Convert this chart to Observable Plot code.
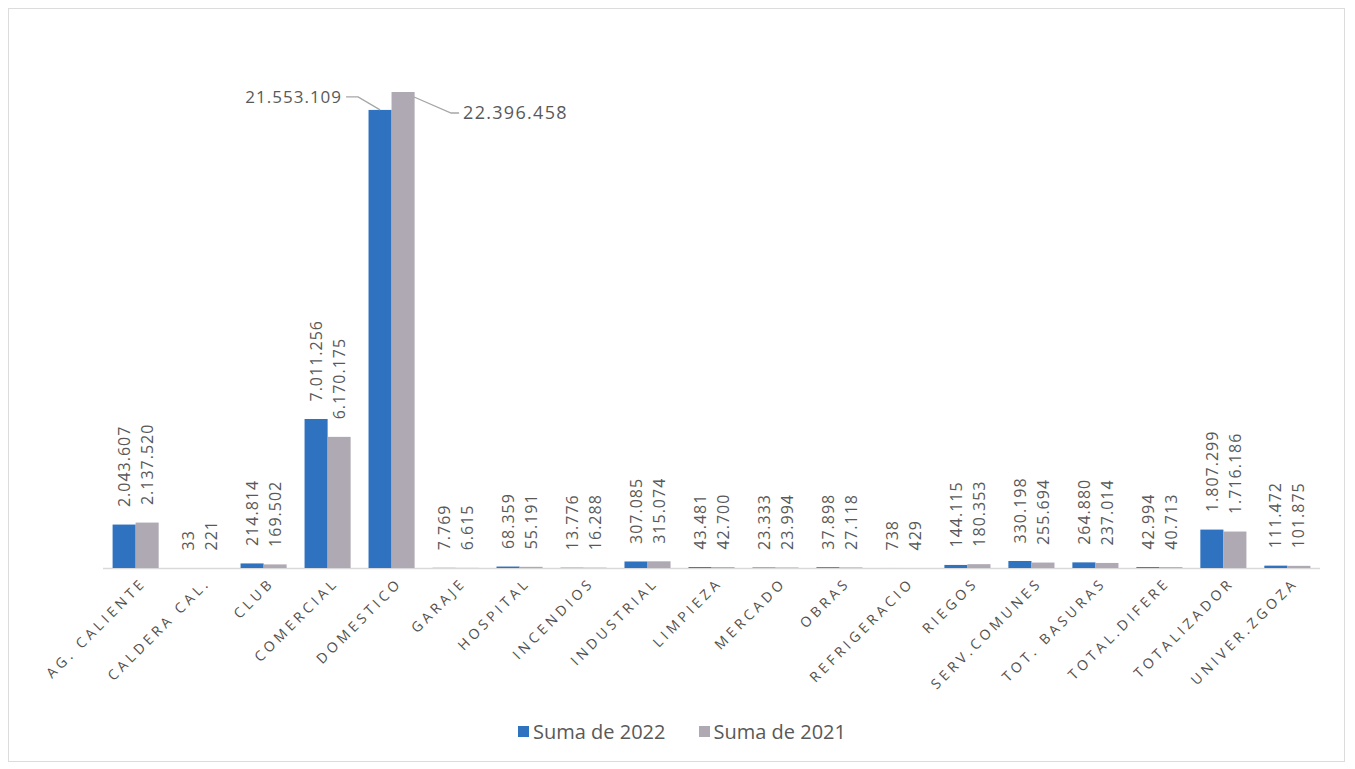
<!DOCTYPE html>
<html>
<head>
<meta charset="utf-8">
<script src="https://cdn.jsdelivr.net/npm/d3@7"></script>
<script src="https://cdn.jsdelivr.net/npm/@observablehq/plot@0.6"></script>
<style>
  body { margin: 0; background: #fff; font-family: "Open Sans", sans-serif; }
  #frame { position: absolute; left: 8px; top: 8px; width: 1337px; height: 754px; border: 1px solid #dcdcdc; box-sizing: border-box; }
  #chart { position: absolute; left: 0; top: 0; }
  #chart g[aria-label="x-axis tick label"] text { letter-spacing: 3.8px; }
  #chart g[aria-label="text"] text { letter-spacing: 1px; }
  #legend { position: absolute; left: 0; top: 718px; width: 1364px; display: flex; justify-content: center; gap: 33px;
            font-size: 20px; color: #595959; font-family: "Open Sans", sans-serif; }
  #legend span.item { display: flex; align-items: center; }
  #legend span.sw { display: inline-block; width: 11px; height: 11px; margin-right: 4px; }
</style>
</head>
<body>
<div id="frame"></div>
<div id="chart"></div>
<div id="legend"></div>
<script>
const categories = ["AG. CALIENTE","CALDERA CAL.","CLUB","COMERCIAL","DOMESTICO","GARAJE","HOSPITAL","INCENDIOS","INDUSTRIAL","LIMPIEZA","MERCADO","OBRAS","REFRIGERACIO","RIEGOS","SERV.COMUNES","TOT. BASURAS","TOTAL.DIFERE","TOTALIZADOR","UNIVER.ZGOZA"];
const values2022 = [2043607,33,214814,7011256,21553109,7769,68359,13776,307085,43481,23333,37898,738,144115,330198,264880,42994,1807299,111472];
const values2021 = [2137520,221,169502,6170175,22396458,6615,55191,16288,315074,42700,23994,27118,429,180353,255694,237014,40713,1716186,101875];
const seriesNames = ["Suma de 2022", "Suma de 2021"];
const seriesColors = ["#2e72c0", "#aea9b3"];
const calloutCategory = "DOMESTICO";

const fmt = d3.formatLocale({decimal: ",", thousands: ".", grouping: [3], currency: ["", ""]}).format(",d");
const rows2022 = categories.map((c, i) => ({cat: c, v: values2022[i]}));
const rows2021 = categories.map((c, i) => ({cat: c, v: values2021[i]}));
const labelColor = "#595959";
const half = 23;

const chart = Plot.plot({
  width: 1355,
  height: 715,
  marginLeft: 103,
  marginRight: 35,
  marginTop: 92,
  marginBottom: 147,
  style: {fontFamily: "Open Sans, sans-serif", background: "transparent"},
  x: {domain: categories, paddingInner: 0.28, paddingOuter: 0.15, round: false, label: null, axis: null},
  y: {domain: [0, d3.max(values2021)], axis: null},
  marks: [
    Plot.ruleY([0], {stroke: "#d9d9d9", strokeWidth: 1.5}),
    Plot.barY(rows2022, {x: "cat", y: "v", fill: seriesColors[0], insetRight: half}),
    Plot.barY(rows2021, {x: "cat", y: "v", fill: seriesColors[1], insetLeft: half}),
    Plot.text(rows2022.filter(d => d.cat !== calloutCategory), {
      x: "cat", y: "v", text: d => fmt(d.v), rotate: -90, textAnchor: "start",
      dx: -11.5, dy: -18, fontSize: 16, fill: labelColor
    }),
    Plot.text(rows2021.filter(d => d.cat !== calloutCategory), {
      x: "cat", y: "v", text: d => fmt(d.v), rotate: -90, textAnchor: "start",
      dx: 11.5, dy: -18, fontSize: 16, fill: labelColor
    }),
    Plot.axisX({tickRotate: -45, tickSize: 0, tickPadding: 8, fontSize: 14, fill: "#505050", dx: 8, dy: 4, label: null})
  ]
});
document.getElementById("chart").appendChild(chart);

// Callout labels for the tall category, positioned through the chart's scales
const xs = chart.scale("x"), ys = chart.scale("y");
const ci = categories.indexOf(calloutCategory);
const center = xs.apply(calloutCategory) + xs.bandwidth / 2;
const svg = d3.select(chart);
const g = svg.append("g");
const line = d3.line();
// 2022 (left)
const bx = center - half / 2, by = ys.apply(values2022[ci]);
g.append("path").attr("d", line([[bx, by], [bx - 22, by - 13], [bx - 34, by - 13]]))
  .attr("fill", "none").attr("stroke", "#a6a6a6").attr("stroke-width", 1.3);
g.append("text").attr("x", bx - 38).attr("y", by - 13).attr("dy", "0.35em").attr("text-anchor", "end")
  .attr("font-size", 17).attr("fill", labelColor).attr("letter-spacing", "1px").text(fmt(values2022[ci]));
// 2021 (right)
const gx = center + half / 2, gy = ys.apply(values2021[ci]);
g.append("path").attr("d", line([[gx + 11, gy + 5], [gx + 48, gy + 21], [gx + 56, gy + 21]]))
  .attr("fill", "none").attr("stroke", "#a6a6a6").attr("stroke-width", 1.3);
g.append("text").attr("x", gx + 60).attr("y", gy + 21).attr("dy", "0.35em").attr("text-anchor", "start")
  .attr("font-size", 18).attr("fill", labelColor).attr("letter-spacing", "1.3px").text(fmt(values2021[ci]));

// Legend
const legend = d3.select("#legend");
seriesNames.forEach((n, i) => {
  const item = legend.append("span").attr("class", "item");
  item.append("span").attr("class", "sw").style("background", seriesColors[i]);
  item.append("span").text(n);
});
</script>
</body>
</html>
